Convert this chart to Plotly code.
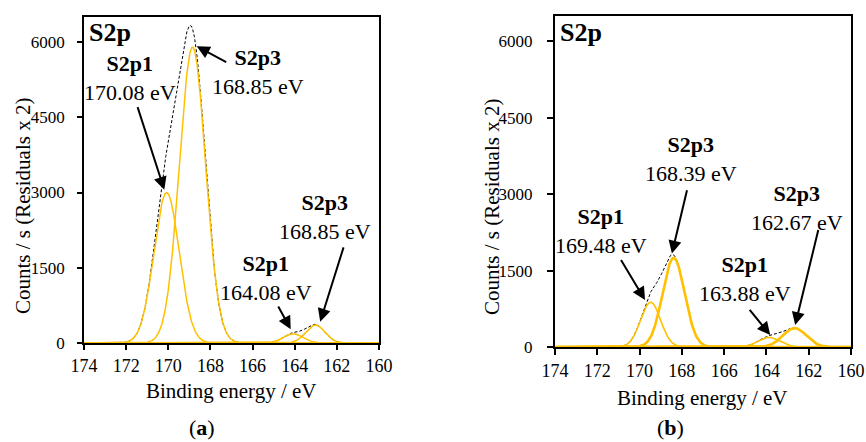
import numpy as np
import plotly.graph_objects as go

# ---- fitted S2p components (binding energy centre / eV, height / counts s^-1, gaussian sigma / eV)
a_centers = [170.08, 168.85, 164.08, 163.02]
a_heights = [3000, 5900, 185, 360]
a_sigmas = [0.60, 0.62, 0.45, 0.45]

b_centers = [169.48, 168.39, 163.88, 162.67]
b_heights = [880, 1750, 190, 370]
b_sigmas = [0.47, 0.52, 0.50, 0.55]

a_labels = ["<b>S2p1</b><br>170.08 eV", "<b>S2p3</b><br>168.85 eV",
            "<b>S2p1</b><br>164.08 eV", "<b>S2p3</b><br>168.85 eV"]
b_labels = ["<b>S2p1</b><br>169.48 eV", "<b>S2p3</b><br>168.39 eV",
            "<b>S2p1</b><br>163.88 eV", "<b>S2p3</b><br>162.67 eV"]

x_ticks = [174, 172, 170, 168, 166, 164, 162, 160]
y_ticks = [0, 1500, 3000, 4500, 6000]

W, H = 866, 442
GOLD = "#FFC000"
FONT = "Liberation Serif"

energy = np.linspace(174, 160, 1401)


def gauss(c, h, s):
    return h * np.exp(-((energy - c) ** 2) / (2 * s ** 2))


def px(x):
    return x / W


def py(y):
    return 1 - y / H


fig = go.Figure()

panels = [
    dict(xa="x", ya="y", c=a_centers, h=a_heights, s=a_sigmas, widths=[1.5, 1.5, 1.5, 1.5]),
    dict(xa="x2", ya="y2", c=b_centers, h=b_heights, s=b_sigmas, widths=[1.6, 2.6, 1.6, 2.6]),
]

for p in panels:
    comps = [gauss(c, h, s) for c, h, s in zip(p["c"], p["h"], p["s"])]
    envelope = np.sum(comps, axis=0)
    fig.add_trace(go.Scatter(x=energy, y=envelope, mode="lines", xaxis=p["xa"], yaxis=p["ya"],
                             line=dict(color="black", width=1, dash="3px,2px"),
                             showlegend=False, hoverinfo="skip"))
    for comp, w in zip(comps, p["widths"]):
        fig.add_trace(go.Scatter(x=energy, y=comp, mode="lines", xaxis=p["xa"], yaxis=p["ya"],
                                 line=dict(color=GOLD, width=w), showlegend=False, hoverinfo="skip"))

axis_common = dict(showgrid=False, zeroline=False, showline=True, linecolor="black",
                   mirror=True, ticks="outside", tickcolor="black", automargin=False)
xfont = dict(family=FONT, size=18, color="black")
yfont = dict(family=FONT, size=17, color="black")

fig.update_layout(
    width=W, height=H,
    margin=dict(l=0, r=0, t=0, b=0, autoexpand=False),
    paper_bgcolor="white", plot_bgcolor="white",
    font=dict(family=FONT, color="black"),
    xaxis=dict(domain=[px(84), px(379)], range=[174, 160], tickvals=x_ticks, anchor="y",
               linewidth=1.5, ticklen=5, tickwidth=1.5, ticklabelstandoff=1, tickfont=xfont,
               **axis_common),
    yaxis=dict(domain=[py(343), py(17)], range=[0, 6500], tickvals=y_ticks, anchor="x",
               linewidth=1.5, ticklen=5, tickwidth=1.5, ticklabelstandoff=9, tickfont=yfont,
               **axis_common),
    xaxis2=dict(domain=[px(555), px(851)], range=[174, 160], tickvals=x_ticks, anchor="y2",
                linewidth=2, ticklen=6, tickwidth=1.5, ticklabelstandoff=0, tickfont=xfont,
                **axis_common),
    yaxis2=dict(domain=[py(347), py(16)], range=[0, 6500], tickvals=y_ticks, anchor="x2",
                linewidth=2, ticklen=6, tickwidth=1.5, ticklabelstandoff=11, tickfont=yfont,
                **axis_common),
)

ann = []


def text(x, y, s, size=21, angle=0):
    ann.append(dict(x=px(x), y=py(y), xref="paper", yref="paper", text=s, showarrow=False,
                    xanchor="center", yanchor="middle", textangle=angle,
                    font=dict(family=FONT, size=size, color="black")))


# axis titles and panel tags
text(231, 391, "Binding energy / eV", size=21)
text(702, 398, "Binding energy / eV", size=21)
text(23, 206, "Counts / s (Residuals x 2)", size=21, angle=-90)
text(492, 207, "Counts / s (Residuals x 2)", size=21, angle=-90)
text(202, 427, "(<b>a</b>)", size=22)
text(670, 427, "(<b>b</b>)", size=22)
text(110, 33, "<b>S2p</b>", size=26)
text(581, 33, "<b>S2p</b>", size=26)

# peak labels
a_label_pos = [(130, 78), (258, 72), (266, 278), (325, 217)]
b_label_pos = [(601, 231), (691, 159), (745, 279), (797, 208)]
for lab, (x, y) in zip(a_labels, a_label_pos):
    text(x, y, lab, size=22)
for lab, (x, y) in zip(b_labels, b_label_pos):
    text(x, y, lab, size=22)

# arrows: head offset from each peak top (d_energy, d_counts), tail in data units
a_arrows = [((0.11, 55), (171.48, 4732)), ((-0.2, 17), (167.18, 5585)),
            ((0.11, 88), (164.82, 759)), ((-0.23, 65), (161.66, 1937))]
b_arrows = [((0.26, 41), (170.92, 1737)), ((0.08, 85), (167.74, 3109)),
            ((-0.06, 45), (164.85, 758)), ((-0.03, 61), (161.53, 2325))]

for centers, heights, arrows, xr, yr in [(a_centers, a_heights, a_arrows, "x", "y"),
                                         (b_centers, b_heights, b_arrows, "x2", "y2")]:
    for c, h, ((dx, dy), (tx, ty)) in zip(centers, heights, arrows):
        ann.append(dict(x=c + dx, y=h + dy, xref=xr, yref=yr, ax=tx, ay=ty, axref=xr, ayref=yr,
                        text="", showarrow=True, arrowhead=2, arrowsize=1.3, arrowwidth=2,
                        arrowcolor="black", standoff=0, startstandoff=0))

fig.update_layout(annotations=ann)
fig.write_html("out.html")
